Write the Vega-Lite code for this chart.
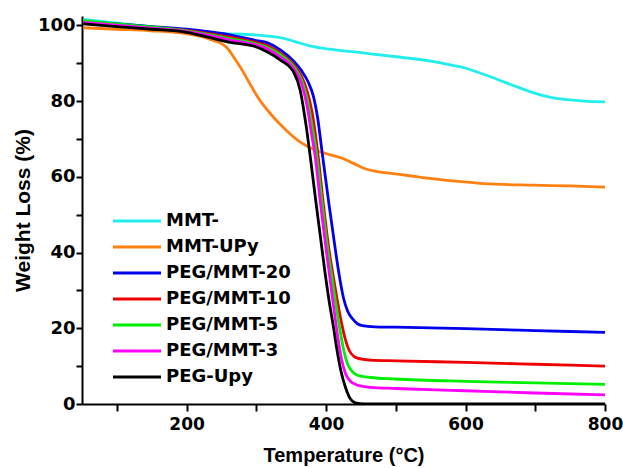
{
  "$schema": "https://vega.github.io/schema/vega-lite/v6.json",
  "width": 523,
  "height": 388,
  "autosize": "none",
  "padding": {"left": 82, "top": 16, "right": 18, "bottom": 64},
  "background": "white",
  "config": {
    "view": {"stroke": null},
    "font": "Liberation Sans",
    "axis": {"grid": false, "domainColor": "black", "domainWidth": 2, "tickColor": "black", "tickWidth": 2, "labelFont": "DejaVu Sans", "labelFontWeight": "bold", "labelFontSize": 18, "labelColor": "black", "titleFont": "Liberation Sans", "titleFontWeight": "bold", "titleFontSize": 20, "titleColor": "black"}
  },
  "data": {"values": [
    {"s":"MMT-","t":52,"w":101.6},{"s":"MMT-","t":100,"w":100.6},{"s":"MMT-","t":150,"w":99.6},{"s":"MMT-","t":200,"w":98.7},{"s":"MMT-","t":230,"w":98.1},{"s":"MMT-","t":260,"w":97.8},{"s":"MMT-","t":306,"w":97.4},{"s":"MMT-","t":330,"w":96.9},{"s":"MMT-","t":349,"w":96.1},{"s":"MMT-","t":363,"w":95.3},{"s":"MMT-","t":375,"w":94.7},{"s":"MMT-","t":392,"w":94.1},{"s":"MMT-","t":411,"w":93.6},{"s":"MMT-","t":450,"w":92.8},{"s":"MMT-","t":507,"w":91.6},{"s":"MMT-","t":550,"w":90.6},{"s":"MMT-","t":583,"w":89.4},{"s":"MMT-","t":600,"w":88.7},{"s":"MMT-","t":617,"w":87.7},{"s":"MMT-","t":645,"w":85.8},{"s":"MMT-","t":675,"w":83.7},{"s":"MMT-","t":698,"w":82.2},{"s":"MMT-","t":722,"w":81.0},{"s":"MMT-","t":746,"w":80.4},{"s":"MMT-","t":770,"w":80.0},{"s":"MMT-","t":800,"w":79.8},
    {"s":"MMT-UPy","t":52,"w":99.4},{"s":"MMT-UPy","t":100,"w":99.0},{"s":"MMT-UPy","t":148,"w":98.6},{"s":"MMT-UPy","t":200,"w":97.8},{"s":"MMT-UPy","t":220,"w":97.1},{"s":"MMT-UPy","t":239,"w":96.0},{"s":"MMT-UPy","t":250,"w":95.2},{"s":"MMT-UPy","t":259,"w":93.9},{"s":"MMT-UPy","t":268,"w":91.5},{"s":"MMT-UPy","t":277,"w":89.0},{"s":"MMT-UPy","t":292,"w":84.2},{"s":"MMT-UPy","t":304,"w":80.5},{"s":"MMT-UPy","t":316,"w":77.6},{"s":"MMT-UPy","t":339,"w":73.0},{"s":"MMT-UPy","t":363,"w":69.2},{"s":"MMT-UPy","t":387,"w":66.9},{"s":"MMT-UPy","t":405,"w":65.9},{"s":"MMT-UPy","t":425,"w":64.8},{"s":"MMT-UPy","t":440,"w":63.5},{"s":"MMT-UPy","t":455,"w":62.2},{"s":"MMT-UPy","t":470,"w":61.5},{"s":"MMT-UPy","t":490,"w":61.0},{"s":"MMT-UPy","t":520,"w":60.3},{"s":"MMT-UPy","t":554,"w":59.5},{"s":"MMT-UPy","t":590,"w":58.8},{"s":"MMT-UPy","t":626,"w":58.2},{"s":"MMT-UPy","t":698,"w":57.8},{"s":"MMT-UPy","t":750,"w":57.6},{"s":"MMT-UPy","t":800,"w":57.3},
    {"s":"PEG/MMT-20","t":52,"w":101.0},{"s":"PEG/MMT-20","t":100,"w":100.4},{"s":"PEG/MMT-20","t":150,"w":99.7},{"s":"PEG/MMT-20","t":200,"w":99.0},{"s":"PEG/MMT-20","t":220,"w":98.6},{"s":"PEG/MMT-20","t":260,"w":97.6},{"s":"PEG/MMT-20","t":300,"w":96.0},{"s":"PEG/MMT-20","t":316,"w":95.4},{"s":"PEG/MMT-20","t":335,"w":93.5},{"s":"PEG/MMT-20","t":354,"w":90.5},{"s":"PEG/MMT-20","t":365,"w":88.0},{"s":"PEG/MMT-20","t":375,"w":84.8},{"s":"PEG/MMT-20","t":382,"w":81.2},{"s":"PEG/MMT-20","t":388,"w":75.5},{"s":"PEG/MMT-20","t":394,"w":67.0},{"s":"PEG/MMT-20","t":404,"w":53.0},{"s":"PEG/MMT-20","t":412,"w":42.5},{"s":"PEG/MMT-20","t":418,"w":35.0},{"s":"PEG/MMT-20","t":425,"w":28.0},{"s":"PEG/MMT-20","t":431,"w":24.5},{"s":"PEG/MMT-20","t":439,"w":22.3},{"s":"PEG/MMT-20","t":445,"w":21.2},{"s":"PEG/MMT-20","t":452,"w":20.7},{"s":"PEG/MMT-20","t":470,"w":20.4},{"s":"PEG/MMT-20","t":500,"w":20.3},{"s":"PEG/MMT-20","t":600,"w":19.9},{"s":"PEG/MMT-20","t":700,"w":19.4},{"s":"PEG/MMT-20","t":800,"w":18.9},
    {"s":"PEG/MMT-10","t":52,"w":100.7},{"s":"PEG/MMT-10","t":100,"w":100.1},{"s":"PEG/MMT-10","t":150,"w":99.4},{"s":"PEG/MMT-10","t":200,"w":98.7},{"s":"PEG/MMT-10","t":220,"w":98.2},{"s":"PEG/MMT-10","t":260,"w":97.0},{"s":"PEG/MMT-10","t":300,"w":95.5},{"s":"PEG/MMT-10","t":316,"w":94.6},{"s":"PEG/MMT-10","t":335,"w":92.6},{"s":"PEG/MMT-10","t":354,"w":89.5},{"s":"PEG/MMT-10","t":365,"w":86.5},{"s":"PEG/MMT-10","t":373,"w":82.5},{"s":"PEG/MMT-10","t":380,"w":77.0},{"s":"PEG/MMT-10","t":388,"w":66.5},{"s":"PEG/MMT-10","t":396,"w":53.0},{"s":"PEG/MMT-10","t":404,"w":41.0},{"s":"PEG/MMT-10","t":410,"w":34.0},{"s":"PEG/MMT-10","t":416,"w":27.5},{"s":"PEG/MMT-10","t":421,"w":22.5},{"s":"PEG/MMT-10","t":427,"w":17.5},{"s":"PEG/MMT-10","t":433,"w":14.2},{"s":"PEG/MMT-10","t":440,"w":12.6},{"s":"PEG/MMT-10","t":445,"w":12.1},{"s":"PEG/MMT-10","t":464,"w":11.6},{"s":"PEG/MMT-10","t":500,"w":11.4},{"s":"PEG/MMT-10","t":600,"w":11.0},{"s":"PEG/MMT-10","t":700,"w":10.5},{"s":"PEG/MMT-10","t":800,"w":10.0},
    {"s":"PEG/MMT-5","t":52,"w":101.3},{"s":"PEG/MMT-5","t":100,"w":100.4},{"s":"PEG/MMT-5","t":150,"w":99.6},{"s":"PEG/MMT-5","t":200,"w":98.6},{"s":"PEG/MMT-5","t":220,"w":98.0},{"s":"PEG/MMT-5","t":260,"w":96.6},{"s":"PEG/MMT-5","t":300,"w":95.1},{"s":"PEG/MMT-5","t":316,"w":94.2},{"s":"PEG/MMT-5","t":335,"w":92.2},{"s":"PEG/MMT-5","t":354,"w":89.0},{"s":"PEG/MMT-5","t":365,"w":85.5},{"s":"PEG/MMT-5","t":373,"w":80.5},{"s":"PEG/MMT-5","t":380,"w":73.5},{"s":"PEG/MMT-5","t":386,"w":66.5},{"s":"PEG/MMT-5","t":395,"w":52.0},{"s":"PEG/MMT-5","t":403,"w":40.0},{"s":"PEG/MMT-5","t":408,"w":34.0},{"s":"PEG/MMT-5","t":414,"w":26.5},{"s":"PEG/MMT-5","t":420,"w":19.5},{"s":"PEG/MMT-5","t":425,"w":14.5},{"s":"PEG/MMT-5","t":431,"w":10.5},{"s":"PEG/MMT-5","t":438,"w":8.5},{"s":"PEG/MMT-5","t":445,"w":7.6},{"s":"PEG/MMT-5","t":464,"w":7.0},{"s":"PEG/MMT-5","t":500,"w":6.6},{"s":"PEG/MMT-5","t":600,"w":6.0},{"s":"PEG/MMT-5","t":700,"w":5.6},{"s":"PEG/MMT-5","t":800,"w":5.2},
    {"s":"PEG/MMT-3","t":52,"w":100.8},{"s":"PEG/MMT-3","t":100,"w":100.1},{"s":"PEG/MMT-3","t":150,"w":99.3},{"s":"PEG/MMT-3","t":200,"w":98.4},{"s":"PEG/MMT-3","t":220,"w":97.8},{"s":"PEG/MMT-3","t":260,"w":96.2},{"s":"PEG/MMT-3","t":300,"w":94.8},{"s":"PEG/MMT-3","t":316,"w":93.8},{"s":"PEG/MMT-3","t":335,"w":91.6},{"s":"PEG/MMT-3","t":354,"w":88.4},{"s":"PEG/MMT-3","t":365,"w":84.5},{"s":"PEG/MMT-3","t":373,"w":78.5},{"s":"PEG/MMT-3","t":379,"w":71.5},{"s":"PEG/MMT-3","t":384,"w":66.0},{"s":"PEG/MMT-3","t":392,"w":53.0},{"s":"PEG/MMT-3","t":400,"w":41.0},{"s":"PEG/MMT-3","t":405,"w":34.0},{"s":"PEG/MMT-3","t":411,"w":25.5},{"s":"PEG/MMT-3","t":417,"w":17.5},{"s":"PEG/MMT-3","t":422,"w":12.0},{"s":"PEG/MMT-3","t":428,"w":8.0},{"s":"PEG/MMT-3","t":435,"w":6.0},{"s":"PEG/MMT-3","t":445,"w":5.0},{"s":"PEG/MMT-3","t":464,"w":4.4},{"s":"PEG/MMT-3","t":500,"w":4.1},{"s":"PEG/MMT-3","t":600,"w":3.5},{"s":"PEG/MMT-3","t":700,"w":2.9},{"s":"PEG/MMT-3","t":800,"w":2.4},
    {"s":"PEG-Upy","t":52,"w":100.4},{"s":"PEG-Upy","t":100,"w":99.7},{"s":"PEG-Upy","t":150,"w":99.0},{"s":"PEG-Upy","t":200,"w":98.2},{"s":"PEG-Upy","t":220,"w":97.4},{"s":"PEG-Upy","t":260,"w":95.6},{"s":"PEG-Upy","t":300,"w":94.3},{"s":"PEG-Upy","t":316,"w":93.0},{"s":"PEG-Upy","t":335,"w":90.8},{"s":"PEG-Upy","t":354,"w":87.5},{"s":"PEG-Upy","t":363,"w":82.8},{"s":"PEG-Upy","t":371,"w":74.0},{"s":"PEG-Upy","t":378,"w":64.4},{"s":"PEG-Upy","t":385,"w":54.0},{"s":"PEG-Upy","t":392,"w":44.0},{"s":"PEG-Upy","t":399,"w":34.0},{"s":"PEG-Upy","t":405,"w":26.5},{"s":"PEG-Upy","t":410,"w":21.0},{"s":"PEG-Upy","t":415,"w":15.0},{"s":"PEG-Upy","t":421,"w":9.0},{"s":"PEG-Upy","t":428,"w":4.3},{"s":"PEG-Upy","t":435,"w":1.3},{"s":"PEG-Upy","t":442,"w":0.3},{"s":"PEG-Upy","t":455,"w":0.0},{"s":"PEG-Upy","t":500,"w":0.0},{"s":"PEG-Upy","t":600,"w":0.0},{"s":"PEG-Upy","t":700,"w":0.0},{"s":"PEG-Upy","t":800,"w":0.0}
  ]},
  "mark": {"type": "line", "strokeWidth": 2.8, "interpolate": "monotone", "clip": true},
  "encoding": {
    "x": {"field": "t", "type": "quantitative", "scale": {"domain": [50, 800], "nice": false, "zero": false},
      "axis": {"title": "Temperature (°C)", "values": [100,200,300,400,500,600,700,800], "labelExpr": "datum.value % 200 == 0 ? datum.label : ''", "labelFontSize": 17, "tickSize": 7, "labelPadding": 5, "titlePadding": 13, "labelFlush": false, "labelOverlap": false}},
    "y": {"field": "w", "type": "quantitative", "scale": {"domain": [0, 102.5], "nice": false},
      "axis": {"title": "Weight  Loss (%)", "values": [0,10,20,30,40,50,60,70,80,90,100], "labelExpr": "datum.value % 20 == 0 ? datum.label : ''", "tickSize": 6, "labelPadding": 1, "titlePadding": 4, "titleFontSize": 21, "labelFlush": false, "labelOverlap": false}},
    "color": {"field": "s", "type": "nominal", "sort": ["MMT-","MMT-UPy","PEG/MMT-20","PEG/MMT-10","PEG/MMT-5","PEG/MMT-3","PEG-Upy"],
      "scale": {"domain": ["MMT-","MMT-UPy","PEG/MMT-20","PEG/MMT-10","PEG/MMT-5","PEG/MMT-3","PEG-Upy"], "range": ["#22EEEE","#FF8010","#0000EE","#EE0000","#00EE00","#FF00FF","#000000"]},
      "legend": {"title": null, "orient": "none", "legendX": 46, "legendY": 196, "symbolType": "M-4,0H4", "symbolSize": 144, "symbolStrokeWidth": 3, "symbolFillColor": "transparent", "labelFont": "DejaVu Sans", "labelFontWeight": "bold", "labelFontSize": 18, "labelColor": "black", "labelOffset": 20, "rowPadding": 8, "labelLimit": 300}}
  }
}
